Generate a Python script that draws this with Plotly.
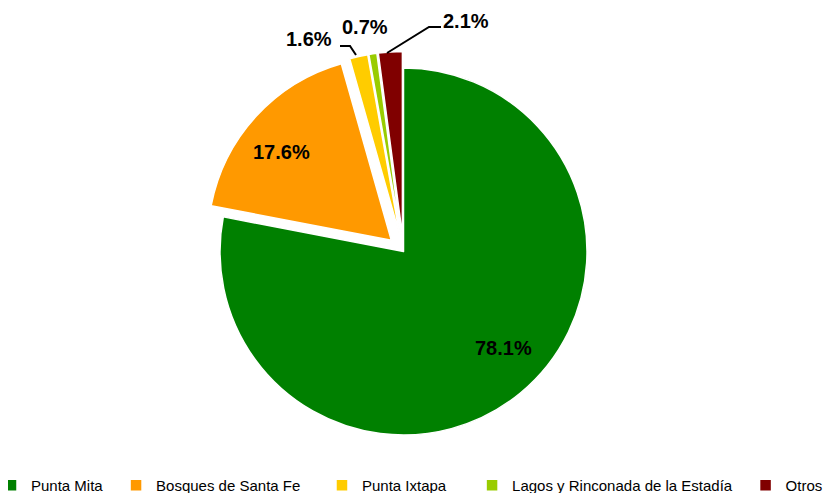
import plotly.graph_objects as go

labels = ["Punta Mita", "Bosques de Santa Fe", "Punta Ixtapa", "Lagos y Rinconada de la Estadía", "Otros"]
values = [78.1, 17.6, 1.6, 0.7, 2.1]
colors = ["#008000", "#FF9900", "#FFCC00", "#99CC00", "#800000"]
pulls = [0, 0.09, 0.09, 0.09, 0.09]
legend_pad = [2, 4, 5, 2, 0]   # non-breaking spaces to widen legend spacing

W, H = 835, 493
OFF = 8  # page body margin offset of the plot inside the browser window


def px(x, y):
    """screen pixel -> paper coordinates"""
    return (x - OFF) / W, 1 - (y - OFF) / H


# pie centre / radius in screen pixels
cx, cy, R = 403.5, 251.5, 183.5
half = R * (1 + max(pulls))
x0, y1 = px(cx - half, cy - half)
x1, y0 = px(cx + half, cy + half)

legend_names = [l + "\u00a0" * n for l, n in zip(labels, legend_pad)]

fig = go.Figure(go.Pie(
    labels=legend_names,
    values=values,
    sort=False,
    direction="clockwise",
    rotation=0,
    pull=pulls,
    marker=dict(colors=colors, line=dict(color="white", width=1.5)),
    textinfo="none",
    domain=dict(x=[x0, x1], y=[y0, y1]),
    hoverinfo="label+percent",
))

# data labels (centre positions in screen pixels)
label_pos = [(503, 348), (281, 152), (309, 39), (364.5, 27), (466.5, 21)]
font = dict(family="Liberation Sans, Arial", size=20, color="black", weight="bold")
for v, (x, y) in zip(values, label_pos):
    ax_, ay_ = px(x, y)
    fig.add_annotation(x=ax_, y=ay_, xref="paper", yref="paper", text=f"{v:.1f}%",
                       showarrow=False, font=font, xanchor="center", yanchor="middle")

# leader lines
leaders = [
    [(340, 46), (350, 46), (356, 55)],
    [(441, 27), (429, 27), (387, 53)],
]
for pts in leaders:
    path = "M " + " L ".join(f"{px(x, y)[0]},{px(x, y)[1]}" for x, y in pts)
    fig.add_shape(type="path", path=path, xref="paper", yref="paper",
                  line=dict(color="black", width=2))

fig.update_layout(
    width=W, height=H,
    margin=dict(l=0, r=0, t=0, b=0, autoexpand=False),
    paper_bgcolor="white",
    plot_bgcolor="white",
    showlegend=True,
    legend=dict(
        orientation="h",
        x=-17 / W, xanchor="left",
        y=-1 / H, yanchor="bottom",
        font=dict(family="Liberation Sans, Arial", size=15, color="black"),
        itemwidth=30,
        traceorder="normal",
    ),
)

fig.write_html("out.html")
